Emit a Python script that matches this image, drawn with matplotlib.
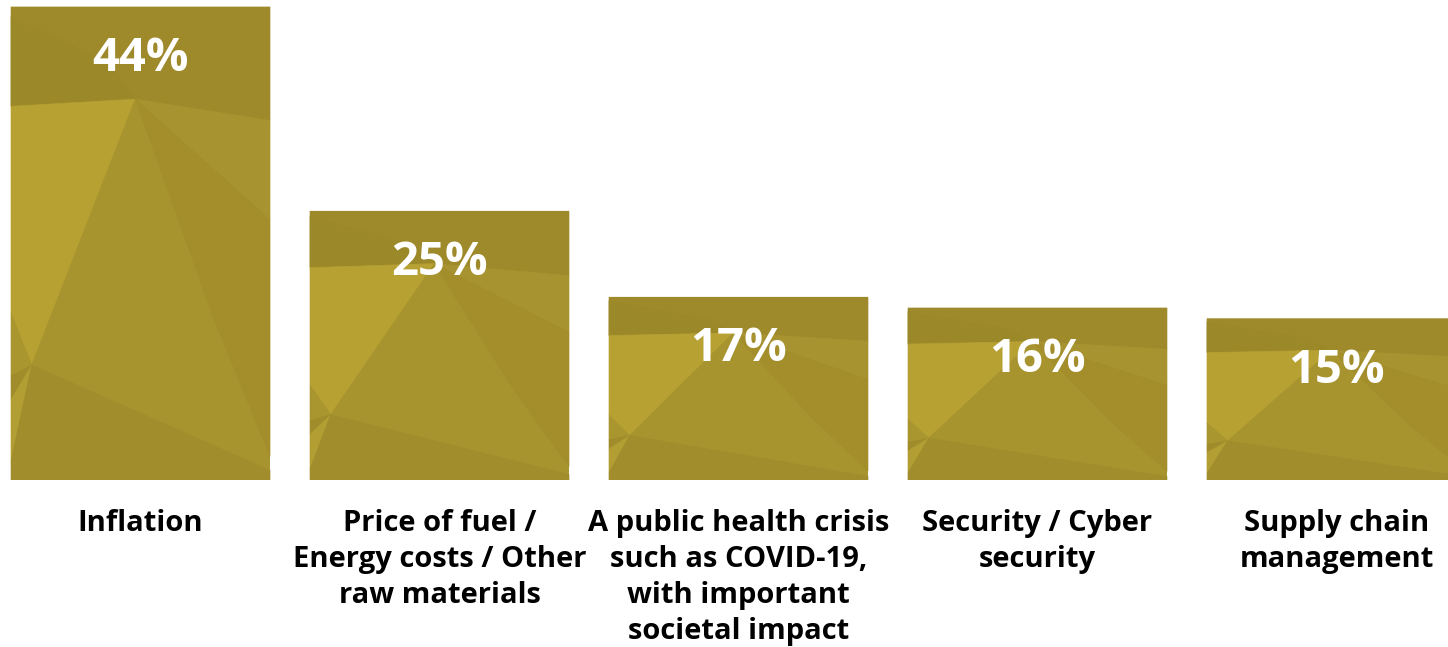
import matplotlib
matplotlib.use('Agg')
import matplotlib.pyplot as plt
from matplotlib.patches import Polygon

categories = [
    "Inflation",
    "Price of fuel /\nEnergy costs / Other\nraw materials",
    "A public health crisis\nsuch as COVID-19,\nwith important\nsocietal impact",
    "Security / Cyber\nsecurity",
    "Supply chain\nmanagement",
]
values = [44, 25, 17, 16, 15]
value_labels = ["44%", "25%", "17%", "16%", "15%"]

BAR_W = 0.866
FONT = ['Open Sans', 'DejaVu Sans']

# low-poly facets, in bar-relative coords (u across, t down from top)
FACETS = [
    ([(0, 0), (1, 0), (1, 0.24), (0.48, 0.195), (0, 0.21)], '#9E8A2A'),
    ([(0, 0.02), (0.38, 0.12), (0.48, 0.195), (0, 0.21)], '#9B8829'),
    ([(0, 0.21), (0.48, 0.195), (0.08, 0.757), (0, 0.647)], '#B7A133'),
    ([(0.48, 0.195), (0.78, 0.655), (1, 0.98), (0.08, 0.757)], '#A8942F'),
    ([(0.48, 0.195), (1, 0.24), (1, 0.45)], '#A7932F'),
    ([(0.48, 0.195), (1, 0.45), (1, 0.95), (0.78, 0.655)], '#A38E2B'),
    ([(0, 0.647), (0.08, 0.757), (0, 0.78)], '#AA962F'),
    ([(0, 0.78), (0.08, 0.757), (0, 0.83)], '#A08C2B'),
    ([(0, 0.83), (0.08, 0.757), (0, 0.96)], '#B39E33'),
    ([(0.08, 0.757), (1, 0.98), (1, 1), (0, 1), (0, 0.96)], '#A18D2C'),
]

fig = plt.figure(figsize=(14.48, 6.47), dpi=100)
ax = fig.add_axes([0, 167 / 647, 1, 480 / 647])

xs = list(range(len(values)))
bars = ax.bar(xs, values, width=BAR_W, color='#A8942F', linewidth=0)

for b in bars:
    x0, w, h = b.get_x(), b.get_width(), b.get_height()
    for pts, col in FACETS:
        poly = Polygon([(x0 + u * w, h * (1 - t)) for u, t in pts],
                       closed=True, facecolor=col, edgecolor=col, lw=0.5)
        ax.add_patch(poly)

for x, v, lab in zip(xs, values, value_labels):
    ax.annotate(lab, (x, v), xytext=(0, -37), textcoords='offset points',
                ha='center', va='center', color='white', fontsize=34,
                fontweight='bold', family=FONT)

for x, cat in zip(xs, categories):
    ax.annotate(cat, (x, 0), xytext=(0, -21), textcoords='offset points',
                ha='center', va='top', color='black', fontsize=21,
                fontweight='bold', family=FONT, linespacing=1.31)

ax.set_xlim(-0.47, 4.373)
ax.set_ylim(0, 44.65)
ax.axis('off')

fig.savefig('out.png', dpi=100)
